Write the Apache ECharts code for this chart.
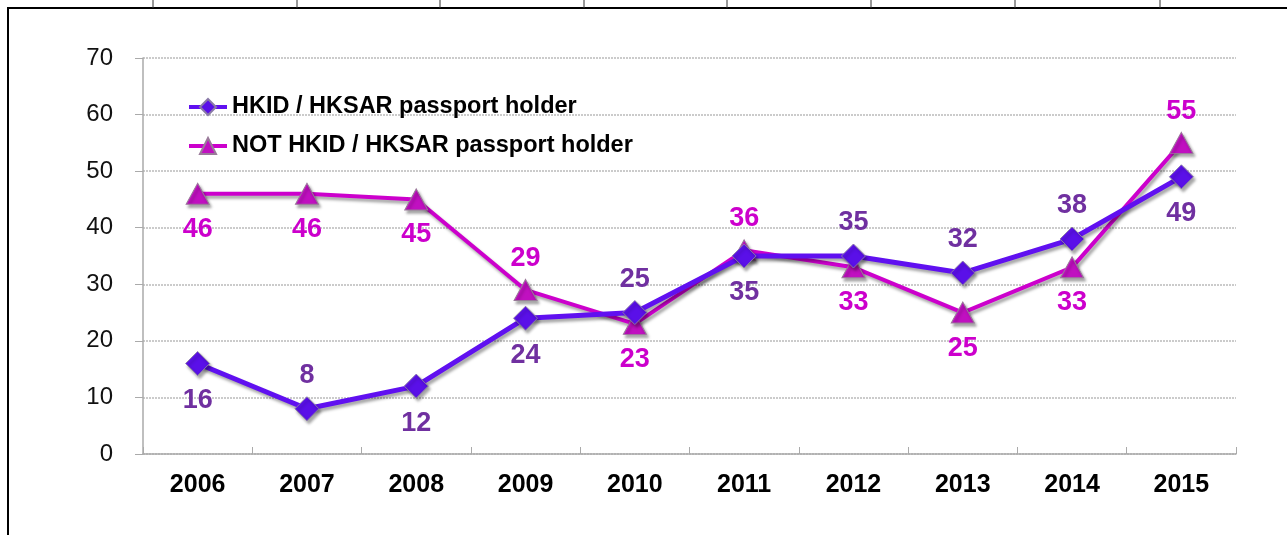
<!DOCTYPE html>
<html>
<head>
<meta charset="utf-8">
<script src="https://cdn.jsdelivr.net/npm/echarts@6/dist/echarts.min.js"></script>
<style>
  html, body { margin: 0; padding: 0; background: #fff; }
  #chart { width: 1287px; height: 535px; }
</style>
</head>
<body>
<div id="chart"></div>
<script>
// Survey years
const years = ['2006', '2007', '2008', '2009', '2010', '2011', '2012', '2013', '2014', '2015'];
// Percentage values per group
const hkidHolder = [16, 8, 12, 24, 25, 35, 35, 32, 38, 49];
const notHkidHolder = [46, 46, 45, 29, 23, 36, 33, 25, 33, 55];
// Y-axis scale
const yTicks = [0, 10, 20, 30, 40, 50, 60, 70];

// Which side of each point its value label sits on
const hkidLabelSide = ['bottom', 'top', 'bottom', 'bottom', 'top', 'bottom', 'top', 'top', 'top', 'bottom'];
const notLabelSide = ['bottom', 'bottom', 'bottom', 'top', 'bottom', 'top', 'bottom', 'bottom', 'bottom', 'top'];

const FONT = '"Liberation Sans", Arial, sans-serif';

function withLabels(values, sides) {
  return values.map((v, i) => ({
    value: v,
    label: { position: sides[i], distance: sides[i] === 'bottom' ? 11 : 7 }
  }));
}

const lineShadow = {
  shadowColor: 'rgba(0,0,0,0.35)',
  shadowBlur: 3,
  shadowOffsetX: 2,
  shadowOffsetY: 3
};

// Frame around the chart, with the cell marks along the top edge
const topMarks = [153, 297, 440, 584, 727, 871, 1015, 1160].map(x => ({
  type: 'line',
  shape: { x1: x, y1: 0, x2: x, y2: 8 },
  style: { stroke: '#333', lineWidth: 1 },
  silent: true
}));

const chart = echarts.init(document.getElementById('chart'));
chart.setOption({
  animation: false,
  backgroundColor: '#fff',
  graphic: [
    {
      type: 'rect',
      shape: { x: 8, y: 8, width: 1320, height: 600 },
      style: { fill: 'none', stroke: '#000', lineWidth: 2 },
      silent: true
    }
  ].concat(topMarks),
  grid: { left: 143, right: 51, top: 58, bottom: 81 },
  legend: {
    orient: 'vertical',
    left: 182,
    top: 90,
    itemGap: 15,
    itemWidth: 38,
    itemHeight: 20,
    lineStyle: { width: 4 },
    textStyle: { fontFamily: FONT, fontWeight: 'bold', fontSize: 23.5, color: '#000' },
    data: ['HKID / HKSAR passport holder', 'NOT HKID / HKSAR passport holder']
  },
  xAxis: {
    type: 'category',
    data: years,
    boundaryGap: true,
    axisLine: { lineStyle: { color: '#aaa', width: 1.5 } },
    axisTick: { show: true, inside: true, length: 7, lineStyle: { color: '#aaa' } },
    axisLabel: { fontFamily: FONT, fontWeight: 'bold', fontSize: 25, color: '#000', margin: 19 },
    splitLine: { show: false }
  },
  yAxis: {
    type: 'value',
    min: yTicks[0],
    max: yTicks[yTicks.length - 1],
    interval: 10,
    axisLine: { show: true, lineStyle: { color: '#aaa', width: 1.5 } },
    axisTick: { show: true, length: 8, lineStyle: { color: '#aaa' } },
    axisLabel: { fontFamily: FONT, fontSize: 24, color: '#111', margin: 30 },
    splitLine: { show: true, lineStyle: { color: '#bbb', type: [2, 1], width: 1.5 } }
  },
  series: [
    {
      name: 'HKID / HKSAR passport holder',
      type: 'line',
      data: withLabels(hkidHolder, hkidLabelSide),
      symbol: 'diamond',
      symbolSize: 24,
      z: 3,
      lineStyle: Object.assign({ color: '#6010F0', width: 5 }, lineShadow),
      itemStyle: Object.assign({ color: '#5A10E8', borderColor: '#8a7aa8', borderWidth: 1 }, lineShadow),
      label: {
        show: true,
        fontFamily: FONT,
        fontWeight: 'bold',
        fontSize: 27,
        color: '#7030A0'
      }
    },
    {
      name: 'NOT HKID / HKSAR passport holder',
      type: 'line',
      data: withLabels(notHkidHolder, notLabelSide),
      symbol: 'triangle',
      symbolSize: [23, 21],
      z: 2,
      lineStyle: Object.assign({ color: '#CC00CC', width: 4 }, lineShadow),
      itemStyle: Object.assign({ color: '#C010C0', borderColor: '#9a7a9a', borderWidth: 1 }, lineShadow),
      label: {
        show: true,
        fontFamily: FONT,
        fontWeight: 'bold',
        fontSize: 27,
        color: '#CC00CC'
      }
    }
  ]
});
</script>
</body>
</html>
